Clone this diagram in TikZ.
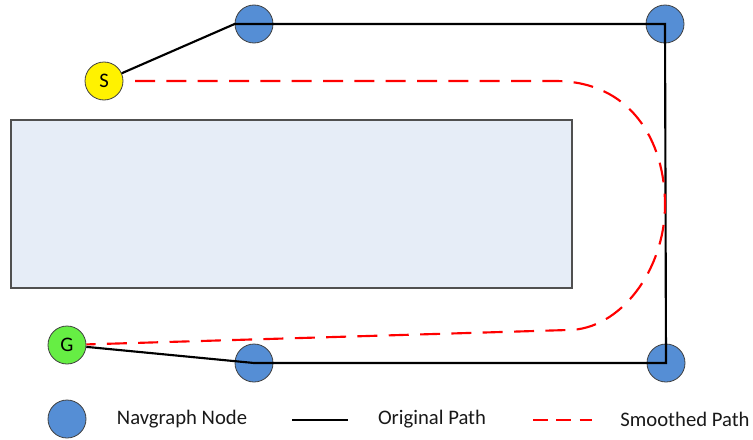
\documentclass[tikz,border=0pt]{standalone}
\usepackage{fontspec}
\setmainfont{Carlito}
\usetikzlibrary{positioning}

\definecolor{navblue}{RGB}{85,142,213}
\definecolor{goalgreen}{RGB}{102,238,68}
\definecolor{obstfill}{RGB}{230,237,247}
\definecolor{obstdraw}{RGB}{80,80,80}

\tikzset{
  navnode/.style={circle, draw=black!75, fill=navblue, minimum size=28.5pt, inner sep=0pt, line width=0.6pt},
  startnode/.style={navnode, fill=yellow, font=\fontsize{15.5}{18}\selectfont},
  goalnode/.style={navnode, fill=goalgreen, font=\fontsize{15.5}{18}\selectfont},
  origpath/.style={line width=1.6pt, black},
  smoothpath/.style={line width=1.6pt, red, dash pattern=on 15pt off 8.5pt},
  legtext/.style={font=\fontsize{15.5}{18}\selectfont, text=black!90},
}

\begin{document}
\begin{tikzpicture}[x=0.75pt, y=-0.75pt]
  \useasboundingbox (0,0) rectangle (753,439);

  % Hindernis
  \draw[obstdraw, fill=obstfill, line width=0.8pt] (11,120) rectangle (572,288);

  % Knoten
  \node[startnode] (S) at (104,81) {S};
  \node[goalnode] (G) at (67,345) {G};
  \node[navnode] (tl) at (254,24) {};
  \node[navnode] (tr) at (665,24) {};
  \node[navnode] (br) at (666,363) {};
  \node[navnode] (bl) at (254,363) {};

  % Original Path
  \draw[origpath] (S) -- (tl.west) -- (tr.center) -- (br.center) -- (bl.center) -- (G);

  % Smoothed Path
  \coordinate (s0) at (135,81);
  \coordinate (s1) at (555,81);
  \coordinate (s2) at (665,205);
  \coordinate (s3) at (568,330);
  \draw[smoothpath] (s0) -- (s1) .. controls (630,81) and (665,140) .. (s2)
    .. controls (665,270) and (620,330) .. (s3) -- (G);

  % Legende
  \node[navnode] (legN) at (67,419) {};
  \node[legtext] (legNt) at (182,419) {Navgraph Node};
  \coordinate (lo1) at (292,420);
  \coordinate (lo2) at (348,420);
  \draw[origpath] (lo1) -- (lo2);
  \node[legtext] (legOt) at (432,419) {Original Path};
  \coordinate (ls1) at (533,420);
  \coordinate (ls2) at (592,420);
  \draw[line width=1.6pt, red, dash pattern=on 11pt off 6.5pt] (ls1) -- (ls2);
  \node[legtext] (legSt) at (685,419) {Smoothed Path};
\end{tikzpicture}
\end{document}
